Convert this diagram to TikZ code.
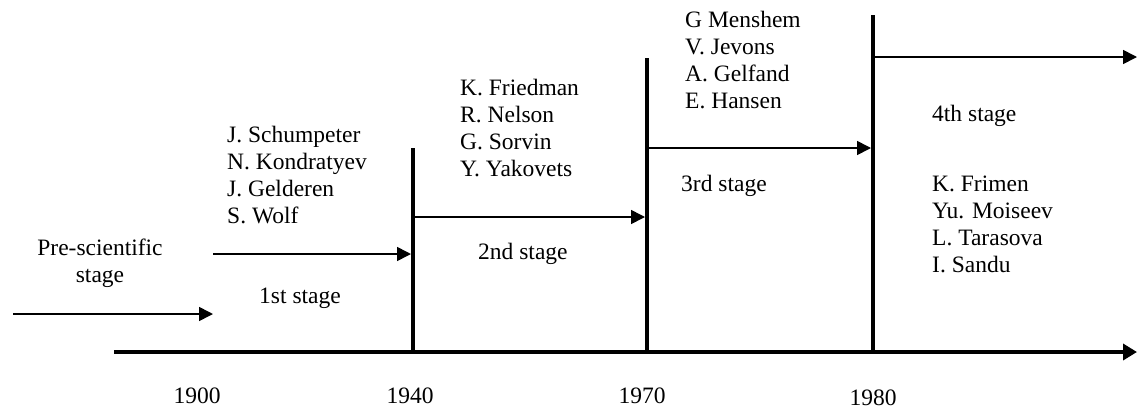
\documentclass[tikz,border=0pt]{standalone}
\usepackage{fontspec}
\setmainfont{Liberation Serif}
\usetikzlibrary{arrows.meta}
\begin{document}
\begin{tikzpicture}[x=1pt,y=-1pt,
  txt/.style={anchor=base west,align=left,inner sep=0pt,
    font=\fontsize{23.5}{27}\selectfont},
  ctxt/.style={anchor=base,align=center,inner sep=0pt,
    font=\fontsize{23.5}{27}\selectfont},
  axisline/.style={line width=4pt,-{Triangle[length=14pt,width=16pt]}},
  era/.style={line width=4pt},
  flow/.style={line width=1.6pt,-{Triangle[length=14pt,width=14pt]}}]
\useasboundingbox (0,0) rectangle (1137,410);

% time axis
\coordinate (ax0) at (114,352);
\coordinate (ax1) at (1137,352);
\draw[axisline] (ax0) -- (ax1);

% stage boundaries
\coordinate (b40) at (413,352);  \coordinate (t40) at (413,148);
\coordinate (b70) at (647,352);  \coordinate (t70) at (647,58);
\coordinate (b80) at (873,352);  \coordinate (t80) at (873,15);
\draw[era] (b40) -- (t40);
\draw[era] (b70) -- (t70);
\draw[era] (b80) -- (t80);

% stage arrows
\coordinate (p0) at (13,314);   \coordinate (p1) at (213,314);
\coordinate (s1a) at (213,254); \coordinate (s1b) at (411,254);
\coordinate (s2a) at (415,217); \coordinate (s2b) at (645,217);
\coordinate (s3a) at (649,148); \coordinate (s3b) at (871,148);
\coordinate (s4a) at (875,57);  \coordinate (s4b) at (1137,57);
\draw[flow] (p0) -- (p1);
\draw[flow] (s1a) -- (s1b);
\draw[flow] (s2a) -- (s2b);
\draw[flow] (s3a) -- (s3b);
\draw[flow] (s4a) -- (s4b);

% stage names (multi-line blocks sit on the baseline of their last line)
\node[ctxt] (pre) at (100,282) {Pre-scientific\\stage};
\node[txt] (st1) at (259,303) {1st stage};
\node[txt] (st2) at (478,259) {2nd stage};
\node[txt] (st3) at (681,191) {3rd stage};
\node[txt] (st4) at (932,121) {4th stage};

% authors
\node[txt] (a1) at (227,223) {J. Schumpeter\\N. Kondratyev\\J. Gelderen\\S. Wolf};
\node[txt] (a2) at (460,176) {K. Friedman\\R. Nelson\\G. Sorvin\\Y. Yakovets};
\node[txt] (a3) at (685,108) {G Menshem\\V. Jevons\\A. Gelfand\\E. Hansen};
\node[txt] (a4) at (932,272) {K. Frimen\\Yu. Moiseev\\L. Tarasova\\I. Sandu};

% years
\node[ctxt] (y1900) at (197,403) {1900};
\node[ctxt] (y1940) at (410,403) {1940};
\node[ctxt] (y1970) at (642,403) {1970};
\node[ctxt] (y1980) at (873,405) {1980};
\end{tikzpicture}
\end{document}
